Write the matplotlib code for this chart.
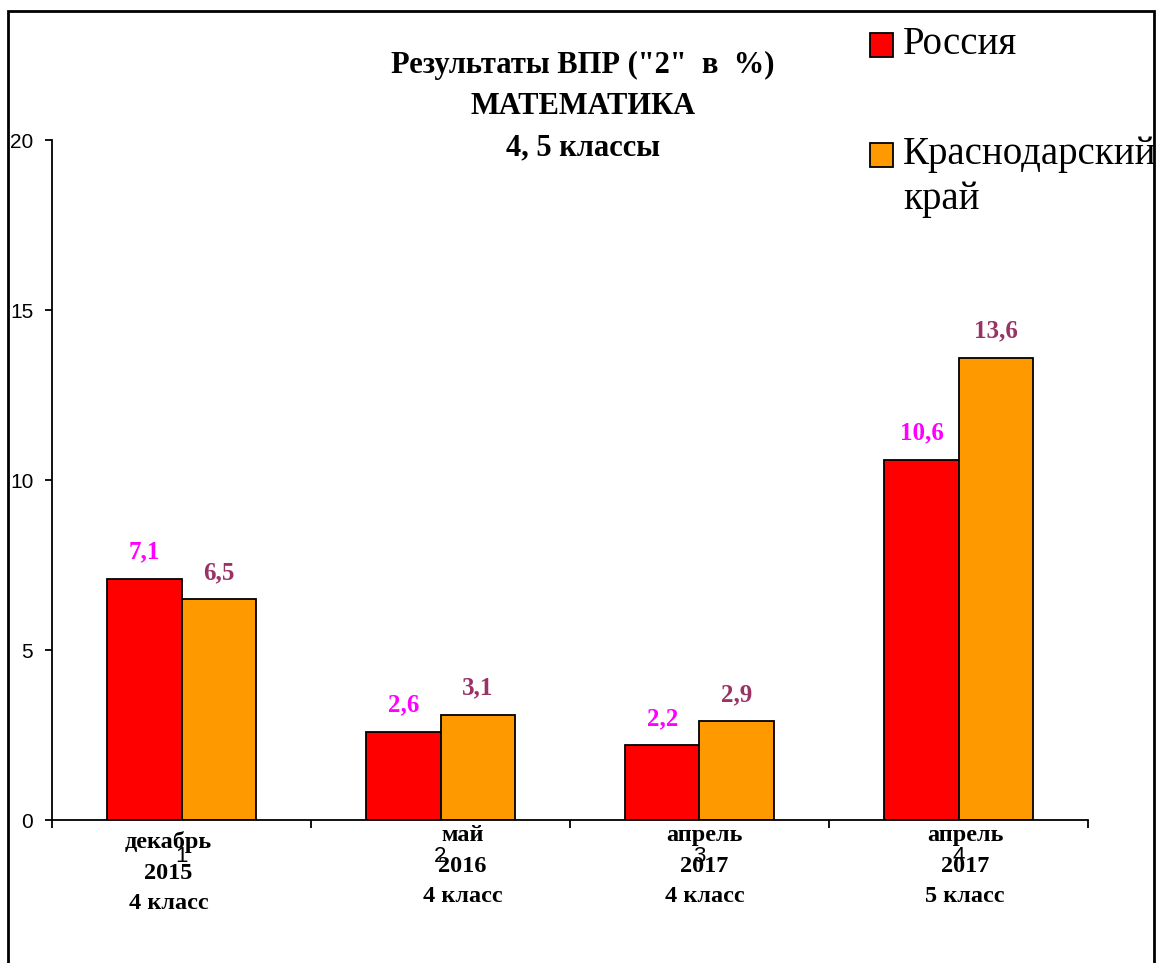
import numpy as np
import matplotlib.pyplot as plt
from matplotlib.patches import Rectangle

plt.rcParams['font.family'] = ['Liberation Serif', 'DejaVu Serif']

periods = ['декабрь\n2015\n4 класс', 'май\n2016\n4 класс', 'апрель\n2017\n4 класс', 'апрель\n2017\n5 класс']
tick_nums = ['1', '2', '3', '4']
russia = [7.1, 2.6, 2.2, 10.6]
kuban = [6.5, 3.1, 2.9, 13.6]
series_names = ['Россия', 'Краснодарский\nкрай']

RED = '#FF0000'
ORANGE = '#FF9900'

fig = plt.figure(figsize=(11.63, 9.63), dpi=100)
ax = fig.add_axes([52/1163, 1 - 820/963, (1088 - 52)/1163, (820 - 140)/963])

x = np.arange(len(periods))
w = 0.286
b1 = ax.bar(x - w/2, russia, width=w, color=RED, edgecolor='black', linewidth=1.3)
b2 = ax.bar(x + w/2, kuban, width=w, color=ORANGE, edgecolor='black', linewidth=1.3)

for rect, v in zip(b1, russia):
    ax.annotate(f'{v:.1f}'.replace('.', ','), (rect.get_x() + rect.get_width()/2, v),
                xytext=(0, 15), textcoords='offset pixels', ha='center', va='bottom',
                fontsize=18, fontweight='bold', color='#FF00FF')
for rect, v in zip(b2, kuban):
    ax.annotate(f'{v:.1f}'.replace('.', ','), (rect.get_x() + rect.get_width()/2, v),
                xytext=(0, 15), textcoords='offset pixels', ha='center', va='bottom',
                fontsize=18, fontweight='bold', color='#993366')

ax.set_xlim(-0.5, len(periods) - 0.5)
ax.set_ylim(0, 20)
ax.set_yticks([0, 5, 10, 15, 20])
ax.tick_params(axis='y', direction='out', length=5, width=1.3, labelsize=15, pad=8.5)
for lab in ax.get_yticklabels():
    lab.set_family('Liberation Sans')

ax.set_xticks(np.arange(len(periods) + 1) - 0.5)
ax.set_xticklabels([])
ax.tick_params(axis='x', which='major', direction='out', length=6, width=1.3)
ax.set_xticks(x, minor=True)
ax.set_xticklabels(tick_nums, minor=True, fontsize=16, family='Liberation Sans')
ax.tick_params(axis='x', which='minor', length=0, pad=19)

for s in ['top', 'right']:
    ax.spines[s].set_visible(False)
for s in ['left', 'bottom']:
    ax.spines[s].set_linewidth(1.3)

# category captions drawn over the numeric tick labels, as in the original
offsets = [-0.05, 0.085, 0.02, 0.025]
tops = [-11, -5, -5, -5]
for xi, lab, dx, dy in zip(x, periods, offsets, tops):
    ax.annotate(lab, (xi + dx, 0), xytext=(0, dy), textcoords='offset pixels',
                ha='center', va='top', fontsize=17.5, fontweight='bold', linespacing=1.6,
                annotation_clip=False)

fig.text(583/1163, 1 - 51/963, 'Результаты ВПР ("2"  в  %)\nМАТЕМАТИКА\n4, 5 классы',
         ha='center', va='top', fontsize=22, fontweight='bold', linespacing=1.55)

# legend
for (yc, color, name) in [(45, RED, series_names[0]), (155, ORANGE, series_names[1])]:
    fig.patches.append(Rectangle((870/1163, 1 - (yc + 12)/963), 23/1163, 24/963,
                                 transform=fig.transFigure, facecolor=color,
                                 edgecolor='black', linewidth=1.3))
    fig.text(903/1163, 1 - (yc - 19)/963, name, ha='left', va='top', fontsize=28,
             linespacing=1.3)

# outer frame
fig.patches.append(Rectangle((8/1163, -0.05), (1154 - 8)/1163, 1.05 - 11/963,
                             transform=fig.transFigure, fill=False, edgecolor='black',
                             linewidth=2, clip_on=False))

fig.savefig('out.png', dpi=100)
